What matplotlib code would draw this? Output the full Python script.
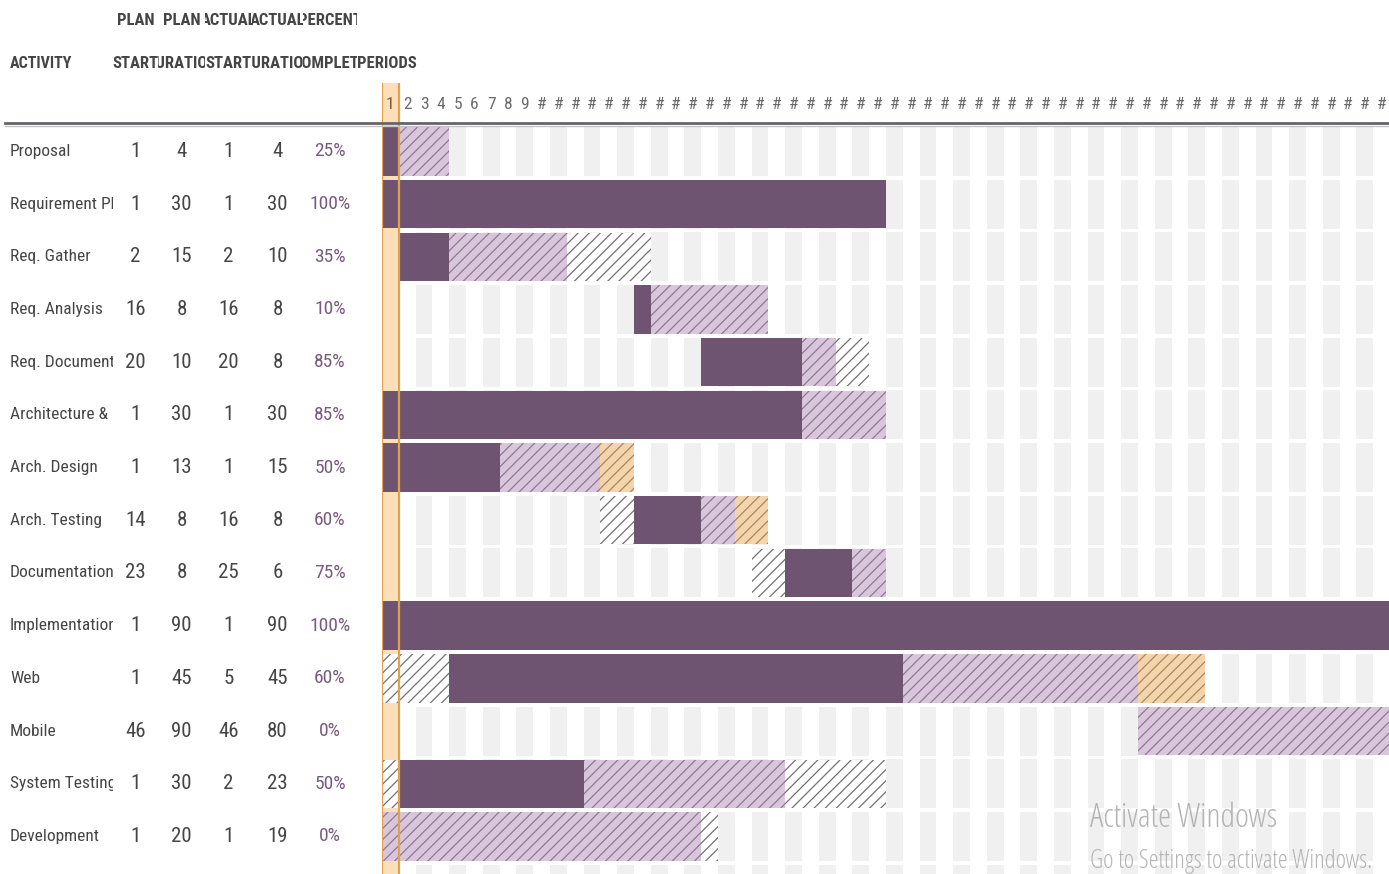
import numpy as np
import matplotlib
matplotlib.use("Agg")
import matplotlib.pyplot as plt
from matplotlib import font_manager
from matplotlib.lines import Line2D
from matplotlib.transforms import Bbox, TransformedBbox, blended_transform_factory

# ---- data ----
activities = ["Proposal", "Requirement Phase", "Req. Gather", "Req. Analysis",
              "Req. Documentation", "Architecture & Design", "Arch. Design",
              "Arch. Testing", "Documentation", "Implementation", "Web", "Mobile",
              "System Testing", "Development"]
plan_start = [1, 1, 2, 16, 20, 1, 1, 14, 23, 1, 1, 46, 1, 1]
plan_dur = [4, 30, 15, 8, 10, 30, 13, 8, 8, 90, 45, 90, 30, 20]
actual_start = [1, 1, 2, 16, 20, 1, 1, 16, 25, 1, 5, 46, 2, 1]
actual_dur = [4, 30, 10, 8, 8, 30, 15, 8, 6, 90, 45, 80, 23, 19]
pct_complete = [25, 100, 35, 10, 85, 85, 50, 60, 75, 100, 60, 0, 50, 0]
# periods shaded as complete on the chart
done_periods = [1, 30, 3, 1, 6, 25, 7, 4, 4, 90, 27, 0, 11, 0]
periods = np.arange(1, 61)
current_period = 1

header_top = ["PLAN", "PLAN", "ACTUAL", "ACTUAL", "PERCENT"]
header_bottom = ["START", "DURATION", "START", "DURATION", "COMPLETE"]

# ---- fonts ----
names = {f.name for f in font_manager.fontManager.ttflist}
narrow = next((n for n in ["Liberation Sans Narrow", "Roboto Condensed",
                           "Open Sans Condensed", "DejaVu Sans"] if n in names),
              "DejaVu Sans")
plt.rcParams["font.family"] = [narrow, "DejaVu Sans"]
if narrow == "DejaVu Sans":
    plt.rcParams["font.stretch"] = "condensed"
plt.rcParams["hatch.linewidth"] = 0.9

W, H = 1389, 874
fig = plt.figure(figsize=(W / 100, H / 100), dpi=100)
fig.patch.set_facecolor("white")

# colours
PURPLE = "#6f5471"
ACT_BG, ACT_LN = "#dac6dc", "#8d7b90"
PLAN_BG, PLAN_LN = "white", "#727272"
LATE_BG, LATE_LN = "#f6d4a9", "#a3896c"
STRIPE = "#f0f0f0"
CUR_BG, CUR_LN = "#fcdfb8", "#e2a24c"
TXT = "#454545"
PCT_TXT = "#7b5a80"

# ---- gantt axes ----
row_px = 52.7
top_px, grid_top_px = 83, 125
per_px = 16.8
left_px = 382
ax = fig.add_axes([left_px / W, 0, 1 - left_px / W, (H - top_px) / H])
ymin = -(grid_top_px - top_px) / row_px
ymax = (H - grid_top_px) / row_px
ax.set_ylim(ymax, ymin)
ax.set_xlim(0, (W - left_px) / per_px)
ax.axis("off")

n = len(activities)
bh = 0.92

# alternating period stripes
stripe_x = periods[(periods % 2 == 1) & (periods != current_period)]
for r in range(n + 1):
    ax.bar(stripe_x - 0.5, 0.93, bottom=r + 0.035, width=1.0, color=STRIPE,
           linewidth=0, zorder=0)

# current period highlight
ax.axvspan(current_period - 1, current_period, color=CUR_BG, linewidth=0, zorder=0.5)

for i in range(n):
    ps, pd_, as_, ad = plan_start[i], plan_dur[i], actual_start[i], actual_dur[i]
    plan_end = ps + pd_ - 1
    # plan
    ax.barh(i + 0.5, pd_, left=ps - 1, height=bh, color=PLAN_BG, edgecolor=PLAN_LN,
            hatch="///", linewidth=0, zorder=1)
    # actual inside plan
    in_len = max(0, min(as_ + ad - 1, plan_end) - as_ + 1)
    if in_len > 0:
        ax.barh(i + 0.5, in_len, left=as_ - 1, height=bh, color=ACT_BG,
                edgecolor=ACT_LN, hatch="///", linewidth=0, zorder=2)
    # actual beyond plan
    late_len = ad - in_len
    if late_len > 0:
        ax.barh(i + 0.5, late_len, left=as_ - 1 + in_len, height=bh, color=LATE_BG,
                edgecolor=LATE_LN, hatch="///", linewidth=0, zorder=2)
    # complete
    if done_periods[i] > 0:
        ax.barh(i + 0.5, done_periods[i], left=as_ - 1, height=bh, color=PURPLE,
                linewidth=0, zorder=3)

# current period borders
for xv in (current_period - 1, current_period):
    ax.axvline(xv, color=CUR_LN, linewidth=1.6, zorder=5)

# period numbers
for p in periods:
    lab = str(p) if p < 10 else "#"
    ax.text(p - 0.5, ymin / 2, lab, ha="center", va="center", fontsize=12.5,
            color="#6a6a6a" if p != current_period else "#7a5a30", zorder=6)

# ---- table on the left ----
tr = blended_transform_factory(fig.transFigure, ax.transData)


def clip_box(x0, x1):
    return TransformedBbox(Bbox.from_extents(x0 / W, 0, x1 / W, 1), fig.transFigure)


col_edges = [113, 158, 205, 252, 303, 357]
col_centers = [(col_edges[k] + col_edges[k + 1]) / 2 for k in range(5)]

y_h1 = (20 - grid_top_px) / row_px
y_h2 = (63 - grid_top_px) / row_px

ax.text(10 / W, y_h2, "ACTIVITY", transform=tr, ha="left", va="center",
        fontsize=11.5, color=TXT, fontweight="bold", clip_on=False)
for k in range(5):
    for yy, lab in ((y_h1, header_top[k]), (y_h2, header_bottom[k])):
        t = ax.text(col_centers[k] / W, yy, lab, transform=tr, ha="center",
                    va="center", fontsize=12, color=TXT, fontweight="bold")
        t.set_clip_on(True)
        t.set_clip_box(clip_box(col_edges[k], col_edges[k + 1]))
ax.text(357 / W, y_h2, "PERIODS", transform=tr, ha="left", va="center",
        fontsize=12, color=TXT, fontweight="bold", clip_on=False)

for i in range(n):
    yy = i + 0.5
    t = ax.text(10 / W, yy, activities[i], transform=tr, ha="left", va="center",
                fontsize=12.5, color=TXT)
    t.set_clip_on(True)
    t.set_clip_box(clip_box(0, col_edges[0]))
    vals = [plan_start[i], plan_dur[i], actual_start[i], actual_dur[i]]
    for k, v in enumerate(vals):
        ax.text(col_centers[k] / W, yy, str(v), transform=tr, ha="center",
                va="center", fontsize=15, color=TXT, clip_on=False)
    ax.text(col_centers[4] / W, yy, f"{pct_complete[i]}%", transform=tr,
            ha="center", va="center", fontsize=14, color=PCT_TXT, clip_on=False)

# header rule
for yp, c, lw in ((122.5, "#666666", 2.0), (126, "#c9c0c9", 1.0)):
    fig.add_artist(Line2D([5 / W, 1], [1 - yp / H, 1 - yp / H], color=c,
                          linewidth=lw, zorder=10))

# screenshot watermark
fig.text(1090 / W, 1 - 818 / H, "Activate Windows", fontsize=24, color="#b5b5b5",
         family=["Open Sans", "DejaVu Sans"], fontstretch="condensed",
         ha="left", va="center")
fig.text(1090 / W, 1 - 862 / H, "Go to Settings to activate Windows.",
         fontsize=18, color="#b5b5b5", family=["Open Sans", "DejaVu Sans"],
         fontstretch="condensed", ha="left", va="center")

fig.savefig("out.png", dpi=100)
